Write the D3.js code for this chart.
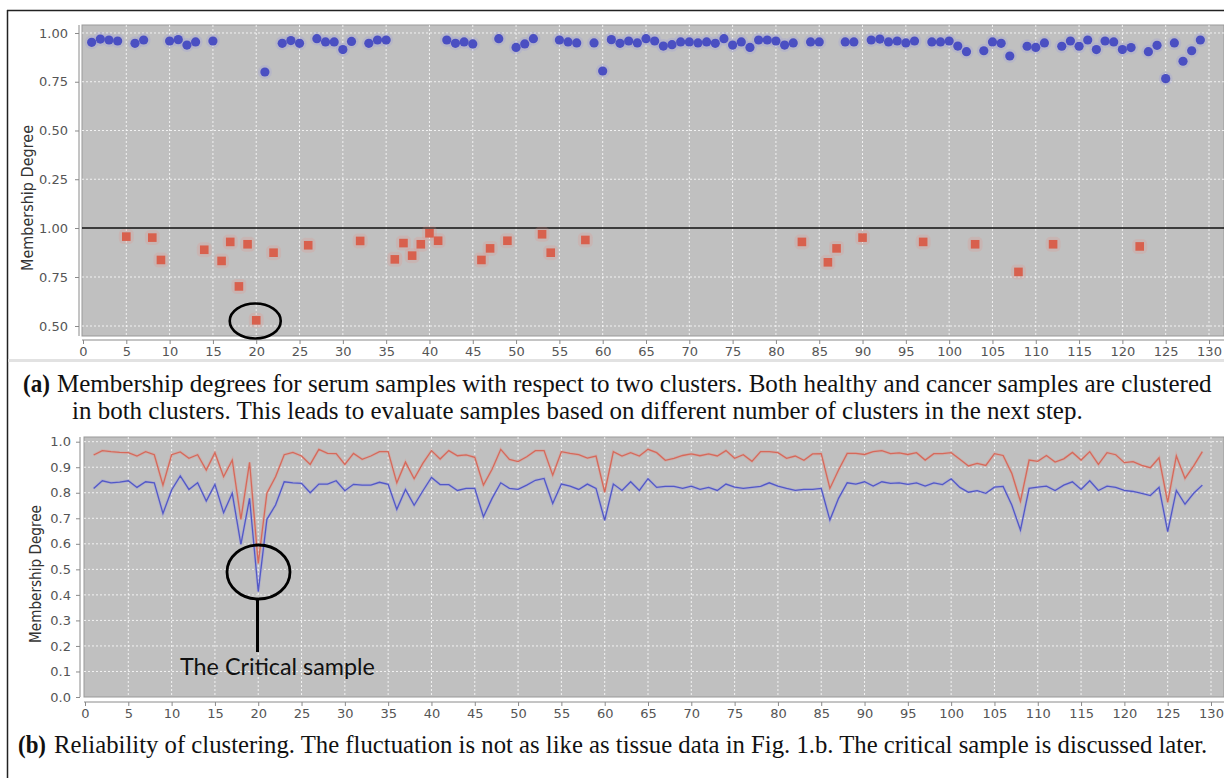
<!DOCTYPE html>
<html><head><meta charset="utf-8">
<script src="https://cdn.jsdelivr.net/npm/d3@7"></script>
<style>html,body{margin:0;padding:0;background:#fff;}svg{display:block;}</style>
</head><body>
<script>
// ---------- DATA ----------
// Panel (a): membership degree, cluster 1 (blue circles) [sample, value]
const clusterOne = [[1,0.952],[2,0.969],[3,0.964],[4,0.959],[6,0.947],[7,0.964],[10,0.959],[11,0.966],[12,0.938],[13,0.954],[15,0.959],[21,0.80],[23,0.947],[24,0.961],[25,0.947],[27,0.971],[28,0.954],[29,0.954],[30,0.915],[31,0.957],[33,0.947],[34,0.964],[35,0.964],[42,0.964],[43,0.947],[44,0.954],[45,0.944],[48,0.971],[50,0.926],[51,0.944],[52,0.971],[55,0.964],[56,0.954],[57,0.949],[59,0.949],[60,0.805],[61,0.966],[62,0.947],[63,0.959],[64,0.949],[65,0.971],[66,0.959],[67,0.933],[68,0.940],[69,0.954],[70,0.954],[71,0.949],[72,0.954],[73,0.947],[74,0.971],[75,0.938],[76,0.954],[77,0.926],[78,0.964],[79,0.964],[80,0.959],[81,0.938],[82,0.949],[84,0.954],[85,0.954],[88,0.954],[89,0.954],[91,0.964],[92,0.969],[93,0.954],[94,0.959],[95,0.949],[96,0.959],[98,0.954],[99,0.954],[100,0.959],[101,0.933],[102,0.904],[104,0.909],[105,0.954],[106,0.947],[107,0.882],[109,0.932],[110,0.926],[111,0.949],[113,0.932],[114,0.959],[115,0.932],[116,0.964],[117,0.915],[118,0.959],[119,0.954],[120,0.915],[121,0.925],[123,0.904],[124,0.937],[125,0.766],[126,0.949],[127,0.855],[128,0.909],[129,0.964]];
// Panel (a): membership degree, cluster 2 (red squares) [sample, value]
const clusterTwo = [[5,0.956],[8,0.951],[9,0.837],[14,0.889],[16,0.832],[17,0.929],[18,0.702],[19,0.917],[20,0.529],[22,0.874],[26,0.912],[32,0.934],[36,0.840],[37,0.923],[38,0.859],[39,0.917],[40,0.973],[41,0.935],[46,0.837],[47,0.896],[49,0.935],[53,0.968],[54,0.874],[58,0.939],[83,0.929],[86,0.825],[87,0.896],[90,0.951],[97,0.929],[103,0.917],[108,0.776],[112,0.917],[122,0.906]];
// Panel (b): reliability series for samples 1..129
const reliabilityRed = [0.948,0.965,0.961,0.958,0.957,0.944,0.961,0.949,0.830,0.949,
0.960,0.935,0.949,0.889,0.957,0.863,0.928,0.696,0.919,0.523,
0.798,0.863,0.949,0.958,0.944,0.911,0.970,0.954,0.953,0.911,
0.954,0.931,0.944,0.961,0.961,0.839,0.920,0.855,0.915,0.965,
0.932,0.965,0.945,0.948,0.939,0.830,0.892,0.970,0.931,0.922,
0.941,0.965,0.965,0.869,0.961,0.954,0.949,0.936,0.944,0.802,
0.961,0.944,0.957,0.944,0.970,0.957,0.927,0.935,0.946,0.952,
0.945,0.952,0.944,0.965,0.935,0.949,0.923,0.961,0.961,0.957,
0.935,0.944,0.927,0.952,0.953,0.817,0.889,0.954,0.954,0.950,
0.961,0.965,0.953,0.956,0.950,0.957,0.928,0.953,0.953,0.957,
0.931,0.905,0.915,0.907,0.953,0.946,0.876,0.766,0.928,0.923,
0.946,0.920,0.933,0.958,0.928,0.961,0.911,0.957,0.949,0.918,
0.922,0.907,0.898,0.937,0.762,0.944,0.856,0.905,0.961];
const reliabilityBlue = [0.817,0.847,0.839,0.842,0.847,0.821,0.843,0.839,0.719,0.811,
0.866,0.813,0.839,0.768,0.833,0.722,0.798,0.598,0.778,0.413,
0.696,0.752,0.843,0.839,0.837,0.800,0.834,0.834,0.847,0.808,
0.833,0.830,0.830,0.841,0.833,0.735,0.813,0.751,0.807,0.860,
0.832,0.832,0.809,0.817,0.817,0.706,0.778,0.839,0.817,0.813,
0.830,0.849,0.856,0.758,0.834,0.826,0.813,0.834,0.817,0.692,
0.834,0.809,0.843,0.809,0.855,0.821,0.825,0.825,0.817,0.826,
0.813,0.821,0.809,0.834,0.822,0.817,0.821,0.825,0.839,0.826,
0.817,0.809,0.813,0.813,0.817,0.693,0.778,0.839,0.834,0.843,
0.826,0.843,0.837,0.839,0.833,0.839,0.826,0.839,0.832,0.855,
0.821,0.802,0.808,0.798,0.822,0.825,0.752,0.654,0.817,0.822,
0.826,0.809,0.830,0.843,0.813,0.847,0.809,0.826,0.821,0.809,
0.805,0.798,0.789,0.821,0.648,0.809,0.755,0.798,0.830];
const xTicks = [0,5,10,15,20,25,30,35,40,45,50,55,60,65,70,75,80,85,90,95,100,105,110,115,120,125,130];
const upperTicks = [0.25,0.50,0.75,1.00];
const lowerTicks = [0.50,0.75,1.00];
const bottomTicks = [0,0.1,0.2,0.3,0.4,0.5,0.6,0.7,0.8,0.9,1.0];
const yLabel = "Membership Degree";
const captionA1 = "Membership degrees for serum samples with respect to two clusters. Both healthy and cancer samples are  clustered";
const captionA2 = "in both clusters. This leads to evaluate samples based on different number of clusters in the next step.";
const captionB = "Reliability of clustering. The fluctuation is not as like as tissue data in Fig. 1.b. The critical sample is discussed later.";
const annotation = "The Critical sample";

// ---------- DRAW ----------
const W = 1224, H = 778;
const svg = d3.select("body").append("svg").attr("width", W).attr("height", H);
const tickFont = "'DejaVu Sans', sans-serif";
const BG = "#c0c0c0", AX = "#8a8a8a", TXT = "#555";

// helper: place text and squeeze it horizontally to a given width
function fitText(parent, str, x, y, width, opts, rotate){
  const t = parent.append("text").text(str)
    .attr("font-family",opts.family).attr("font-size",opts.size)
    .attr("font-weight",opts.weight||"normal").attr("fill",opts.fill||"#111");
  if (rotate) t.attr("text-anchor","middle").attr("dy","0.35em");
  const len = t.node().getComputedTextLength();
  const sx = width/len;
  t.attr("transform", rotate ? `translate(${x},${y}) rotate(-90) scale(${sx},1)` : `translate(${x},${y}) scale(${sx},1)`);
  return t;
}

// frame
svg.append("line").attr("x1",7.5).attr("x2",7.5).attr("y1",10).attr("y2",H).attr("stroke","#222").attr("stroke-width",1.5);
svg.append("line").attr("x1",7).attr("x2",W).attr("y1",10.5).attr("y2",10.5).attr("stroke","#222").attr("stroke-width",1.5);

// ===== Panel (a) =====
const xA = d3.scaleLinear().domain([0,130]).range([83,1209]);
const yUp = d3.scaleLinear().domain([0,1.041]).range([228,25]);
const yLo = d3.scaleLinear().domain([0.449,1.0]).range([336,228]);
const gA = svg.append("g");
gA.append("rect").attr("x",82).attr("y",25).attr("width",W-82).attr("height",311).attr("fill",BG).attr("stroke","#999");
gA.selectAll(".vg").data(xTicks.slice(1)).join("line")
  .attr("x1",d=>xA(d)).attr("x2",d=>xA(d)).attr("y1",25).attr("y2",336)
  .attr("stroke","#fff").attr("stroke-dasharray","2,2").attr("stroke-width",0.8);
gA.selectAll(".hgu").data(upperTicks).join("line")
  .attr("x1",82).attr("x2",W).attr("y1",d=>yUp(d)).attr("y2",d=>yUp(d))
  .attr("stroke","#fff").attr("stroke-dasharray","2,2").attr("stroke-width",0.8);
gA.selectAll(".hgl").data(lowerTicks.slice(0,2)).join("line")
  .attr("x1",82).attr("x2",W).attr("y1",d=>yLo(d)).attr("y2",d=>yLo(d))
  .attr("stroke","#fff").attr("stroke-dasharray","2,2").attr("stroke-width",0.8);
gA.append("line").attr("x1",82).attr("x2",W).attr("y1",yLo(1.0)).attr("y2",yLo(1.0)).attr("stroke","#111").attr("stroke-width",1.3);

function styleAxis(g){
  g.selectAll("path,line").attr("stroke",AX);
  g.selectAll("text").attr("fill",TXT).attr("font-family",tickFont).attr("font-size","13px");
}
const yaU = gA.append("g").attr("transform","translate(79,0)")
  .call(d3.axisLeft(yUp).tickValues(upperTicks).tickFormat(d3.format(".2f")).tickSize(4).tickPadding(7).tickSizeOuter(0));
yaU.select(".domain").attr("d","M0,25V228");
styleAxis(yaU);
const yaL = gA.append("g").attr("transform","translate(79,0)")
  .call(d3.axisLeft(yLo).tickValues(lowerTicks).tickFormat(d3.format(".2f")).tickSize(4).tickPadding(7).tickSizeOuter(0));
yaL.select(".domain").attr("d","M0,228V336");
styleAxis(yaL);
const xaA = gA.append("g").attr("transform","translate(0,340)")
  .call(d3.axisBottom(xA).tickValues(xTicks).tickSize(4).tickPadding(3).tickSizeOuter(0));
xaA.select(".domain").attr("d","M82,0H"+W);
styleAxis(xaA);

fitText(gA, yLabel, 27, 198, 146, {family:"'DejaVu Sans', sans-serif", size:"16px", fill:"#333"}, true);

gA.selectAll(".ch").data(clusterOne).join("circle")
  .attr("cx",d=>xA(d[0])).attr("cy",d=>yUp(d[1])).attr("r",7).attr("fill","rgba(140,140,235,0.18)");
gA.selectAll(".c").data(clusterOne).join("circle")
  .attr("cx",d=>xA(d[0])).attr("cy",d=>yUp(d[1])).attr("r",4.6).attr("fill","#4a4fc2");
gA.selectAll(".sh").data(clusterTwo).join("rect")
  .attr("x",d=>xA(d[0])-7.5).attr("y",d=>yLo(d[1])-7.5).attr("width",15).attr("height",15).attr("rx",5)
  .attr("fill","rgba(235,140,130,0.2)");
gA.selectAll(".s").data(clusterTwo).join("rect")
  .attr("x",d=>xA(d[0])-4.3).attr("y",d=>yLo(d[1])-4.3).attr("width",8.6).attr("height",8.6)
  .attr("fill","#d8604d");
gA.append("ellipse").attr("cx",xA(20)-1).attr("cy",321).attr("rx",25.5).attr("ry",17.5)
  .attr("fill","none").attr("stroke","#000").attr("stroke-width",2.6);

svg.append("rect").attr("x",8).attr("y",359).attr("width",W-8).attr("height",3).attr("fill","#e2e2e2");

// captions (a)
const serif = "'Liberation Serif', serif";
fitText(svg, "(a)", 23, 392, 27, {family:serif, size:"26px", weight:"bold"});
fitText(svg, captionA1, 57, 392, 1155, {family:serif, size:"26px"});
fitText(svg, captionA2, 72, 419, 1011, {family:serif, size:"26px"});

// ===== Panel (b) =====
const xB = d3.scaleLinear().domain([0,130]).range([85,1211]);
const yB = d3.scaleLinear().domain([0,1]).range([697,441.7]);
const gB = svg.append("g");
gB.append("rect").attr("x",84).attr("y",437).attr("width",W-84).attr("height",260).attr("fill",BG).attr("stroke","#999");
gB.selectAll(".vg").data(xTicks.slice(1)).join("line")
  .attr("x1",d=>xB(d)).attr("x2",d=>xB(d)).attr("y1",437).attr("y2",697)
  .attr("stroke","#fff").attr("stroke-dasharray","2,2").attr("stroke-width",0.8);
gB.selectAll(".hg").data(bottomTicks.slice(1)).join("line")
  .attr("x1",84).attr("x2",W).attr("y1",d=>yB(d)).attr("y2",d=>yB(d))
  .attr("stroke","#fff").attr("stroke-dasharray","2,2").attr("stroke-width",0.8);
const yaB = gB.append("g").attr("transform","translate(80,0)")
  .call(d3.axisLeft(yB).tickValues(bottomTicks).tickFormat(d3.format(".1f")).tickSize(4).tickPadding(5).tickSizeOuter(0));
yaB.select(".domain").attr("d","M0,437V697");
styleAxis(yaB);
const xaB = gB.append("g").attr("transform","translate(0,702)")
  .call(d3.axisBottom(xB).tickValues(xTicks).tickSize(4).tickPadding(3).tickSizeOuter(0));
xaB.select(".domain").attr("d","M84,0H"+W);
styleAxis(xaB);
fitText(gB, yLabel, 36, 574, 138, {family:"'DejaVu Sans', sans-serif", size:"15px", fill:"#333"}, true);

const lineGen = d3.line().x((d,i)=>xB(i+1)).y(d=>yB(d));
gB.append("path").datum(reliabilityRed).attr("d",lineGen).attr("fill","none").attr("stroke","rgba(230,140,130,0.3)").attr("stroke-width",3);
gB.append("path").datum(reliabilityBlue).attr("d",lineGen).attr("fill","none").attr("stroke","rgba(140,140,235,0.3)").attr("stroke-width",3);
gB.append("path").datum(reliabilityRed).attr("d",lineGen).attr("fill","none").attr("stroke","#d6695a").attr("stroke-width",1.3);
gB.append("path").datum(reliabilityBlue).attr("d",lineGen).attr("fill","none").attr("stroke","#5258c6").attr("stroke-width",1.3);

gB.append("ellipse").attr("cx",258.5).attr("cy",572).attr("rx",31.5).attr("ry",27)
  .attr("fill","none").attr("stroke","#000").attr("stroke-width",2.8);
gB.append("line").attr("x1",257.5).attr("x2",257.5).attr("y1",599).attr("y2",652).attr("stroke","#000").attr("stroke-width",3);
fitText(gB, annotation, 180, 675, 195, {family:"Lato, 'Open Sans', sans-serif", size:"23px", fill:"#111"});

// caption (b)
fitText(svg, "(b)", 18, 753, 28, {family:serif, size:"26px", weight:"bold"});
fitText(svg, captionB, 54, 753, 1154, {family:serif, size:"26px"});
</script>
</body></html>
